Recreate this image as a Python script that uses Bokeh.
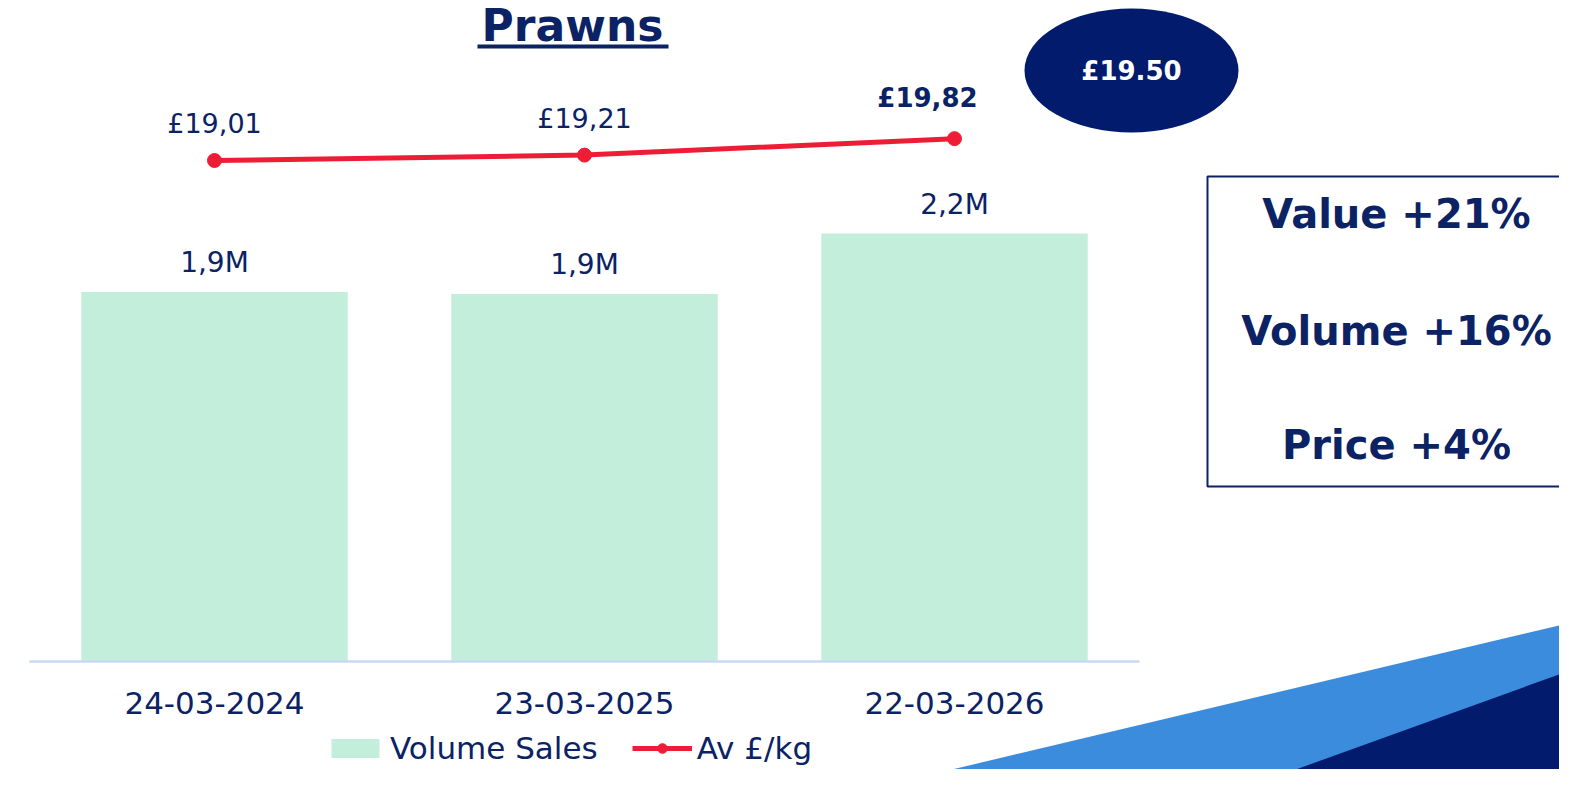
from bokeh.plotting import figure
from bokeh.models import Range1d, LinearAxis, FixedTicker, Legend, LegendItem
from bokeh.core.properties import value
from bokeh.embed import file_html
from bokeh.resources import INLINE

# ---------------- data ----------------
title_text = "Prawns"
dates = ["24-03-2024", "23-03-2025", "22-03-2026"]
volume_m = [1.90, 1.89, 2.20]          # volume sales, millions
price_kg = [19.01, 19.21, 19.82]       # average £/kg
target_price = "£19.50"
change_labels = ["Value +21%", "Volume +16%", "Price +4%"]
legend_labels = ["Volume Sales", "Av £/kg"]

# ---------------- style / layout ----------------
W, H = 1559, 769
NAVY = "#0B2265"
DARK = "#021B6D"
LIGHTBLUE = "#3B8CDD"
GREEN = "#C2EEDB"
RED = "#EE1D36"
AXIS = "#C8D8F5"
FONT = "DejaVu Sans"

CAT_PX = 370.0        # pixels per category
CAT0 = 214.0          # x of first category centre
BASE = H - 661.0      # y (from bottom) of volume zero
VOL_PX = 194.5        # pixels per million
PRICE_PX = 27.0       # pixels per £
PRICE_REF_PX = H - 160.0  # y (from bottom) of first price


def px(xp):   # picture x -> frame pixel x
    return xp


def py(yp):   # picture y (from top) -> frame pixel y (from bottom)
    return H - yp


idx = list(range(len(dates)))
vol_labels = [f"{v:.1f}".replace(".", ",") + "M" for v in volume_m]
price_labels = [f"£{v:.2f}".replace(".", ",") for v in price_kg]

p = figure(width=W, height=H, output_backend="svg", toolbar_location=None,
           x_axis_type=None, y_axis_type=None, min_border=0,
           x_range=Range1d(-CAT0 / CAT_PX, (W - CAT0) / CAT_PX),
           y_range=Range1d(-BASE / VOL_PX, (H - BASE) / VOL_PX))
p.outline_line_color = None
p.background_fill_color = "white"
p.border_fill_color = "white"
p.extra_y_ranges = {
    "price": Range1d(price_kg[0] - PRICE_REF_PX / PRICE_PX,
                     price_kg[0] + (H - PRICE_REF_PX) / PRICE_PX),
    "px": Range1d(0, H),
}
p.extra_x_ranges = {"px": Range1d(0, W)}

# decorative triangles bottom-right
p.patches(xs=[[px(884), px(1575), px(1575)], [px(1251), px(1575), px(1575)]],
          ys=[[py(785), py(621), py(785)], [py(785), py(668), py(785)]],
          fill_color=[LIGHTBLUE, DARK], line_color=None,
          x_range_name="px", y_range_name="px")

# bars
bars = p.vbar(x=idx, top=volume_m, width=0.72, fill_color=GREEN, line_color=None)
p.text(x=idx, y=volume_m, text=vol_labels, y_offset=-29,
       text_align="center", text_baseline="middle",
       text_font=value(FONT), text_font_size="28px", text_color=NAVY)

# price line
line = p.line(idx, price_kg, y_range_name="price", line_color=RED, line_width=5)
pts = p.scatter(idx, price_kg, y_range_name="price", size=14,
                fill_color=RED, line_color=RED)
p.text(x=idx[:-1], y=price_kg[:-1], text=price_labels[:-1], y_range_name="price",
       y_offset=-37, text_align="center", text_baseline="middle",
       text_font=value(FONT), text_font_size="27px", text_color=NAVY)
p.text(x=idx[-1:], y=price_kg[-1:], text=price_labels[-1:], y_range_name="price",
       y_offset=-41, x_offset=-27, text_align="center", text_baseline="middle",
       text_font=value(FONT), text_font_size="26px", text_font_style="bold",
       text_color=NAVY)

# category axis at volume zero
ax = LinearAxis(fixed_location=0, ticker=FixedTicker(ticks=idx),
                major_label_overrides={i: d for i, d in enumerate(dates)},
                bounds=(-0.5, len(dates) - 0.5),
                axis_line_color=AXIS, axis_line_width=2.5,
                major_tick_line_color=None, minor_tick_line_color=None,
                major_label_text_font=FONT, major_label_text_font_size="31px",
                major_label_text_color=NAVY, major_label_standoff=24)
p.add_layout(ax, "below")

# title with underline
p.text(x=[px(572)], y=[py(25)], text=[title_text], x_range_name="px", y_range_name="px",
       text_align="center", text_baseline="middle",
       text_font=value(FONT), text_font_size="44px", text_font_style="bold",
       text_color=NAVY)
p.quad(left=[px(477)], right=[px(668)], top=[py(44)], bottom=[py(48)],
       x_range_name="px", y_range_name="px", fill_color=NAVY, line_color=None)

# target price bubble
p.ellipse(x=[px(1131)], y=[py(70)], width=[214], height=[124],
          x_range_name="px", y_range_name="px", fill_color=DARK, line_color=None)
p.text(x=[px(1131)], y=[py(70)], text=[target_price], x_range_name="px", y_range_name="px",
       text_align="center", text_baseline="middle",
       text_font=value(FONT), text_font_size="26px", text_font_style="bold",
       text_color="white")

# change box
p.quad(left=[px(1207)], right=[px(1590)], top=[py(176)], bottom=[py(486)],
       x_range_name="px", y_range_name="px", fill_color=None,
       line_color=NAVY, line_width=2)
p.text(x=[px(1396)] * 3, y=[py(213), py(330), py(444)], text=change_labels,
       x_range_name="px", y_range_name="px",
       text_align="center", text_baseline="middle",
       text_font=value(FONT), text_font_size="40px", text_font_style="bold",
       text_color=NAVY)

# legend
legend = Legend(items=[LegendItem(label=legend_labels[0], renderers=[bars]),
                       LegendItem(label=legend_labels[1], renderers=[line, pts])],
                orientation="horizontal", location=(px(325), 3),
                padding=0, margin=0, spacing=34, glyph_width=60, glyph_height=24,
                label_standoff=5, border_line_color=None, background_fill_alpha=0,
                label_text_font=FONT, label_text_font_size="31px",
                label_text_color=NAVY)
p.add_layout(legend)

open("out.html", "w").write(file_html(p, INLINE))
